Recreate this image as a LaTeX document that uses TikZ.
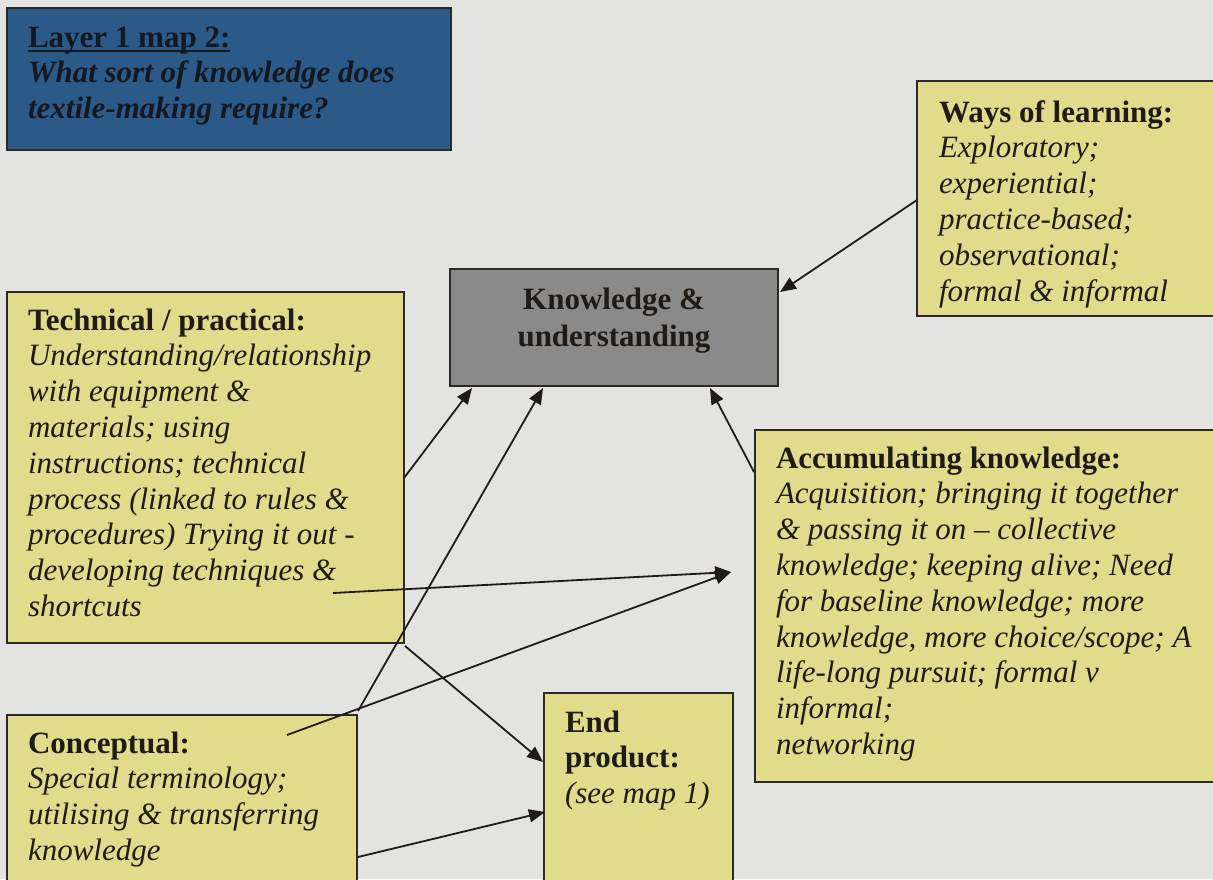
\documentclass[tikz,border=0pt]{standalone}
\usepackage{fontspec}
\setmainfont{Liberation Serif}
\usetikzlibrary{arrows.meta,calc}
\definecolor{bg}{RGB}{227,227,225}
\definecolor{boxyellow}{RGB}{224,220,140}
\definecolor{titleblue}{RGB}{44,90,136}
\definecolor{knowgray}{RGB}{138,138,138}
\definecolor{ink}{RGB}{32,27,22}
\definecolor{titleink}{RGB}{20,24,32}
\definecolor{boxline}{RGB}{45,42,38}
\newcommand\myul[1]{\setbox0\hbox{#1}\rlap{\rule[-5pt]{\wd0}{2pt}}\box0}
\begin{document}
\begin{tikzpicture}[x=1pt,y=-1pt,
  box/.style={draw=boxline, line width=1.5pt, anchor=north west, inner sep=0pt, outer sep=0pt},
  ybox/.style={box, fill=boxyellow},
  txt/.style={anchor=north west, inner sep=0pt, outer sep=0pt, align=left, text=ink, font=\fontsize{31}{35.8}\selectfont},
  conn/.style={draw=ink, line width=1.8pt, -{Triangle[length=16pt,width=13pt]}}]
\useasboundingbox (0,0) rectangle (1213,879);
\fill[bg] (0,0) rectangle (1213,879);
\clip (0,0) rectangle (1213,879);

% boxes
\node[box, fill=titleblue, minimum width=444pt, minimum height=142pt] (title) at (7,8) {};
\node[box, fill=knowgray, minimum width=328pt, minimum height=117pt] (know) at (450,269) {};
\node[ybox, minimum width=350pt, minimum height=235pt] (ways) at (917,81) {};
\node[ybox, minimum width=397pt, minimum height=351pt] (tech) at (7,292) {};
\node[ybox, minimum width=350pt, minimum height=200pt] (concept) at (7,715) {};
\node[ybox, minimum width=189pt, minimum height=200pt] (endp) at (544,693) {};
\node[ybox, minimum width=500pt, minimum height=352pt] (accum) at (755,430) {};

% texts
\node[txt, text=titleink] (titleT) at ([shift={(21,14)}]title.north west)
  {\strut\myul{\textbf{Layer 1 map 2:}}\\
   \textbf{\textit{What sort of knowledge does}}\\
   \textbf{\textit{textile-making require?}}};
\node[txt, anchor=north, align=center, font=\fontsize{31}{37}\selectfont] (knowT) at (614,284)
  {\strut\textbf{Knowledge \&}\\ \textbf{understanding}};
\node[txt] (waysT) at ([shift={(22,16)}]ways.north west)
  {\strut\textbf{Ways of learning:}\\
   \textit{Exploratory;}\\
   \textit{experiential;}\\
   \textit{practice-based;}\\
   \textit{observational;}\\
   \textit{formal \& informal}};
\node[txt] (techT) at ([shift={(21,13)}]tech.north west)
  {\strut\textbf{Technical / practical:}\\
   \textit{Understanding/relationship}\\
   \textit{with equipment \&}\\
   \textit{materials; using}\\
   \textit{instructions; technical}\\
   \textit{process (linked to rules \&}\\
   \textit{procedures) Trying it out -}\\
   \textit{developing techniques \&}\\
   \textit{shortcuts}};
\node[txt] (conceptT) at ([shift={(21,13)}]concept.north west)
  {\strut\textbf{Conceptual:}\\
   \textit{Special terminology;}\\
   \textit{utilising \& transferring}\\
   \textit{knowledge}};
\node[txt] (endT) at ([shift={(21,14)}]endp.north west)
  {\strut\textbf{End}\\
   \textbf{product:}\\
   \textit{(see map 1)}};
\node[txt] (accumT) at ([shift={(21,13)}]accum.north west)
  {\strut\textbf{Accumulating knowledge:}\\
   \textit{Acquisition; bringing it together}\\
   \textit{\& passing it on – collective}\\
   \textit{knowledge; keeping alive; Need}\\
   \textit{for baseline knowledge; more}\\
   \textit{knowledge, more choice/scope; A}\\
   \textit{life-long pursuit; formal v}\\
   \textit{informal;}\\
   \textit{networking}};

% connector end points
\coordinate (a1s) at ($(ways.north west)+(0,119)$);
\coordinate (a1e) at ($(know.north east)+(2,23)$);
\coordinate (a2s) at ($(tech.north east)+(0,186)$);
\coordinate (a2e) at ($(know.south west)+(22,2)$);
\coordinate (a3s) at ($(concept.north east)+(1,-4)$);
\coordinate (a3e) at ($(know.south west)+(93,2)$);
\coordinate (a4s) at ($(accum.north west)+(-1,42)$);
\coordinate (a4e) at ($(know.south west)+(260,2)$);
\coordinate (a5s) at ($(tech.north west)+(326,301)$);
\coordinate (a5e) at ($(accum.north west)+(-24,142)$);
\coordinate (a6s) at ($(concept.north west)+(280,20)$);
\coordinate (a7s) at ($(tech.south east)+(1,3)$);
\coordinate (a7e) at ($(endp.north west)+(-1,69)$);
\coordinate (a8s) at ($(concept.north east)+(1,142)$);
\coordinate (a8e) at ($(endp.north west)+(1,119)$);

\draw[conn] (a1s) -- (a1e);
\draw[conn] (a2s) -- (a2e);
\draw[conn] (a3s) -- (a3e);
\draw[conn] (a4s) -- (a4e);
\draw[conn] (a5s) -- (a5e);
\draw[conn] (a6s) -- (a5e);
\draw[conn] (a7s) -- (a7e);
\draw[conn] (a8s) -- (a8e);
\end{tikzpicture}
\end{document}
